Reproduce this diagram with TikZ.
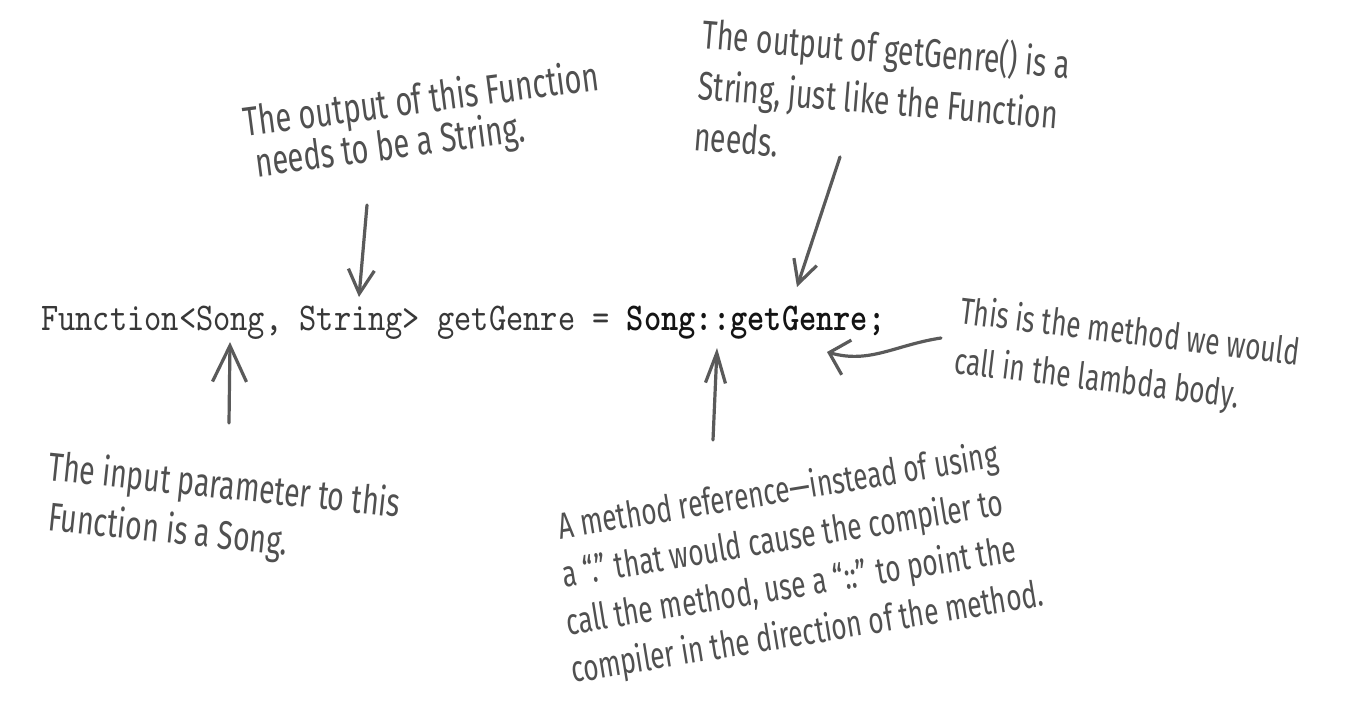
\documentclass[tikz,border=0pt]{standalone}
\usepackage{fontspec}
\usetikzlibrary{arrows.meta}
\newfontfamily\handfont{Fira Sans}[FakeStretch=0.71]
\newfontfamily\codefont{lmmono10-regular}[Extension=.otf,FakeStretch=0.835]
\newfontfamily\codeboldfont{lmmonolt10-bold}[Extension=.otf,FakeStretch=0.835]
\definecolor{handgray}{HTML}{505050}
\definecolor{arrowgray}{HTML}{5A5A5A}
\definecolor{codegray}{HTML}{383838}
\definecolor{codedark}{HTML}{141414}
\tikzset{
  note/.style 2 args={anchor=base west, inner sep=0pt, align=left, text=handgray,
    font=\handfont\fontsize{#1}{#2}\selectfont},
  codeline/.style={anchor=base west, inner sep=0pt, text=codegray,
    font=\codefont\fontsize{39.3}{47}\selectfont},
  harrow/.style={draw=arrowgray, line width=3.2pt, line cap=round, line join=round},
  barb/.style n args={2}{-{Straight Barb[length=#1pt,width=#2pt,line width=3.2pt]}}
}
\begin{document}
\begin{tikzpicture}[x=1pt,y=-1pt]
\useasboundingbox[fill=white] (0,0) rectangle (1347,716);

% code line
\node[codeline] (code) at (41,330)
  {Function<Song, String> getGenre = {\codeboldfont\color{codedark}Song::getGenre;}};

% annotations (anchor = start of the last line's baseline)
\node[note={41}{39}, rotate=7.5] (outfn) at (251,178)
  {The output of this Function\\\hspace*{6pt}needs to be a String.};
\node[note={40}{51}, rotate=-4.7] (outgg) at (693,150)
  {The output of getGenre() is a\\String, just like the Function\\needs.};
\node[note={37}{50}, rotate=-7] (meth) at (953,373)
  {This is the method we would\\call in the lambda body.};
\node[note={40}{50}, rotate=-6] (inp) at (42,530)
  {The input parameter to this\\\hspace*{5pt}Function is a Song.};
\node[note={37}{48}, rotate=9.3] (mref) at (573,683)
  {\hspace*{11pt}A method reference—instead of using\\\hspace*{7pt}a “.” that would cause the compiler to\\\hspace*{3pt}call the method, use a “::” to point the\\compiler in the direction of the method.};

% arrow end points
\coordinate (a1s) at (367,205);  \coordinate (a1e) at (359,297);
\coordinate (a2s) at (840,157);  \coordinate (a2e) at (797,287);
\coordinate (a3s) at (941,338);  \coordinate (a3e) at (827,352);
\coordinate (a4s) at (229,423);  \coordinate (a4e) at (230,342);
\coordinate (a5s) at (713,440);  \coordinate (a5e) at (717,348);

\draw[harrow, barb={24}{26}] (a1s) -- (a1e);
\draw[harrow, barb={23}{24}] (a2s) -- (a2e);
\draw[harrow, barb={18}{36}] (a3s) .. controls (895,345) and (870,364) .. (a3e);
\draw[harrow, barb={36}{34}] (a4s) -- (a4e);
\draw[harrow, barb={30}{20}] (a5s) -- (a5e);
\end{tikzpicture}
\end{document}
